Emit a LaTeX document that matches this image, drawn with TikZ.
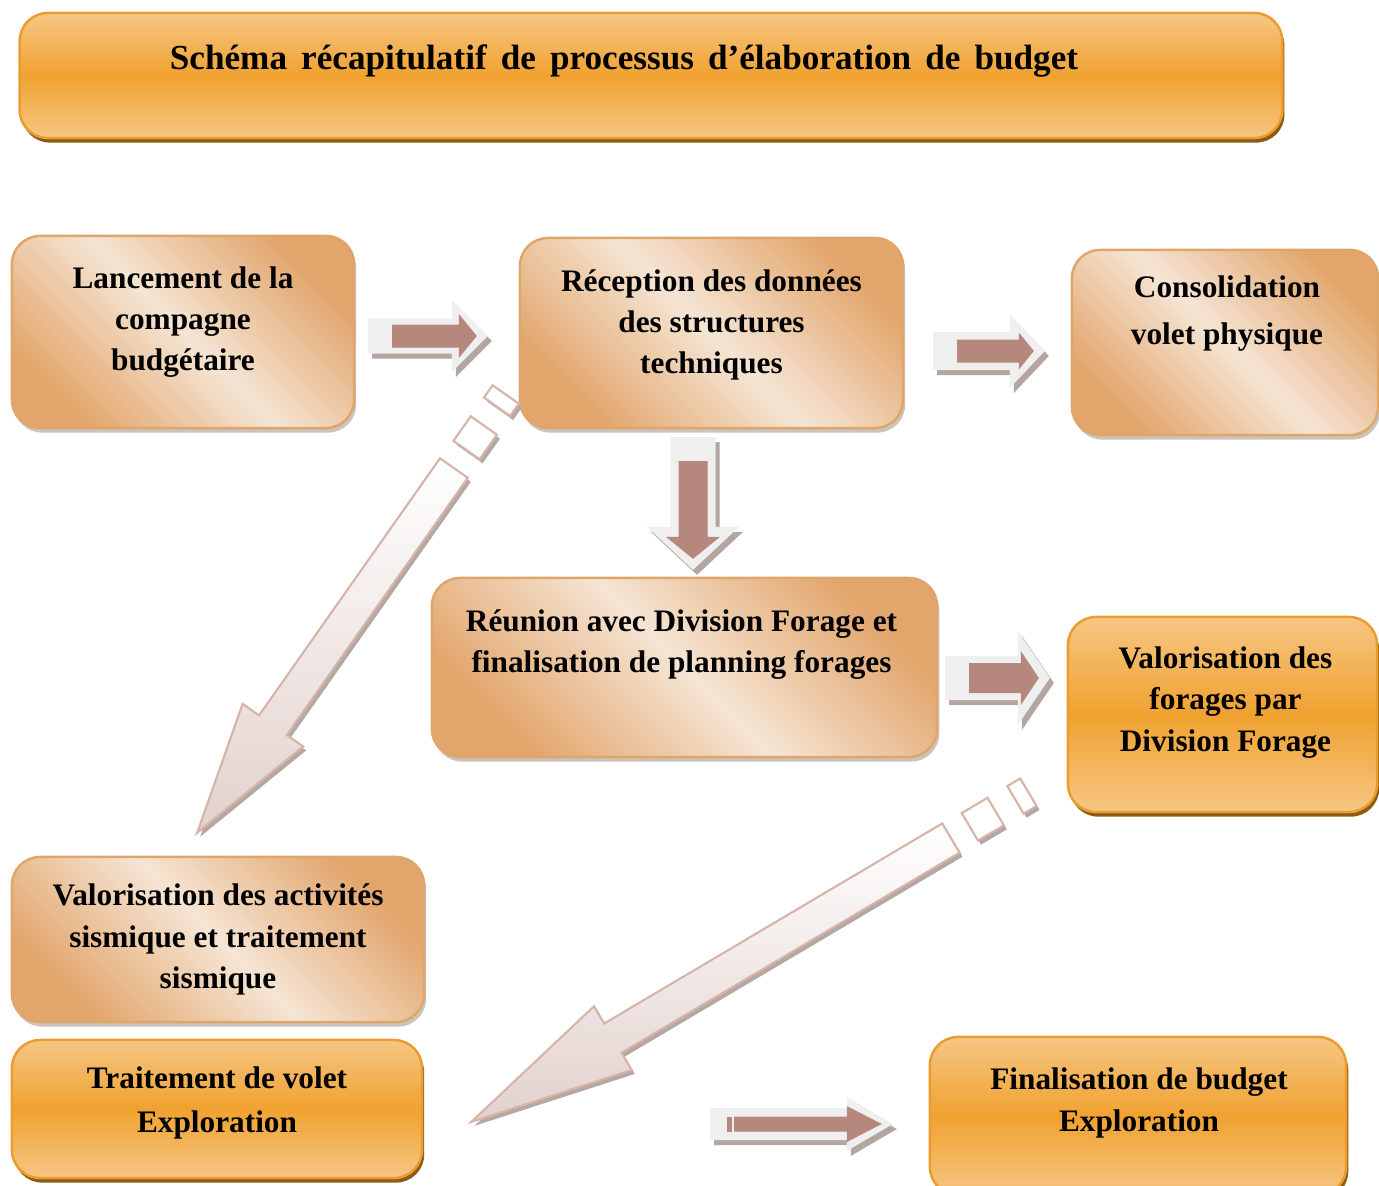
\documentclass[tikz,border=0pt]{standalone}
\usepackage{fontspec}
\setmainfont{Liberation Serif}
\usetikzlibrary{calc,shadows}

\definecolor{orMid}{HTML}{F0A230}
\definecolor{orLight}{HTML}{F6C684}
\definecolor{orEdge}{HTML}{EA9C2E}
\definecolor{orShadow}{HTML}{8C5C14}
\definecolor{peDark}{HTML}{E2A56B}
\definecolor{peLight}{HTML}{F5E5D4}
\definecolor{peEdge}{HTML}{DEA66A}
\definecolor{peShadow}{HTML}{CBC3BC}
\definecolor{arLight}{HTML}{F0EFEF}
\definecolor{arBrown}{HTML}{B5877D}
\definecolor{arShadow}{HTML}{B3A5A0}
\definecolor{bigEdge}{HTML}{D5B4A9}
\definecolor{bigEnd}{HTML}{E2D1CD}
\definecolor{bigShadow}{HTML}{B5A7A2}

% angle and length (in px) from #1 to #2
\newcommand{\arrowframe}[2]{%
  \path let \p1=($(#2)-(#1)$) in \pgfextra{%
    \pgfmathsetmacro\tmpang{atan2(\y1,\x1)}%
    \pgfmathsetmacro\tmplen{veclen(\x1,\y1)/0.28453}%
    \xdef\arrang{\tmpang}\xdef\arrlen{\tmplen}};}

% block arrow: start, tip, outer body, outer head, outer head length, inner body, inner head, inner head length
\newcommand{\fatarrow}[8]{%
  \arrowframe{#1}{#2}
  \fill[arShadow, shift={($(#1)+(4,5)$)}, rotate=\arrang]
    (0,-#3) -- ({\arrlen-#5},-#3) -- ({\arrlen-#5},-#4) -- (\arrlen,0)
    -- ({\arrlen-#5},#4) -- ({\arrlen-#5},#3) -- (0,#3) -- cycle;
  \fill[arLight, shift={(#1)}, rotate=\arrang]
    (0,-#3) -- ({\arrlen-#5},-#3) -- ({\arrlen-#5},-#4) -- (\arrlen,0)
    -- ({\arrlen-#5},#4) -- ({\arrlen-#5},#3) -- (0,#3) -- cycle;
  \fill[arBrown, shift={(#1)}, rotate=\arrang]
    (24,-#6) -- ({\arrlen-11-#8},-#6) -- ({\arrlen-11-#8},-#7) -- ({\arrlen-11},0)
    -- ({\arrlen-11-#8},#7) -- ({\arrlen-11-#8},#6) -- (24,#6) -- cycle;}

% big hollow arrow with two squares behind its tail: shaft start, tip
\newcommand{\bigarrow}[2]{%
  \arrowframe{#1}{#2}
  \pgfmathsetmacro\headbase{0.705*\arrlen}
  \fill[bigShadow, shift={($(#1)+(3,4)$)}, rotate=\arrang]
    (0,-17) -- (\headbase,-17) -- (\headbase,-37) -- (\arrlen,0)
    -- (\headbase,37) -- (\headbase,17) -- (0,17) -- cycle
    (-52,-16) rectangle (-22,16) (-90,-16) rectangle (-75,16);
  \draw[bigEdge, line width=0.6pt, top color=white, bottom color=bigEnd,
        shift={(#1)}, rotate=\arrang]
    (0,-17) -- (\headbase,-17) -- (\headbase,-37) -- (\arrlen,0)
    -- (\headbase,37) -- (\headbase,17) -- (0,17) -- cycle;
  \draw[bigEdge, line width=0.6pt, fill=white, shift={(#1)}, rotate=\arrang]
    (-52,-16) rectangle (-22,16) (-90,-16) rectangle (-75,16);}

\begin{document}
\begin{tikzpicture}[x=0.01cm, y=-0.01cm,
    orbox/.style={draw=orEdge, line width=0.7pt, rounded corners=8pt,
      top color=orLight, bottom color=orLight, middle color=orMid,
      drop shadow={shadow xshift=0.6pt, shadow yshift=-1.3pt, fill=orShadow, opacity=1},
      inner sep=0pt, outer sep=0pt},
    pebox/.style={draw=peEdge, line width=0.7pt, rounded corners=8pt,
      top color=peDark, bottom color=peDark, middle color=peLight, shading angle=-45,
      drop shadow={shadow xshift=0.6pt, shadow yshift=-1.3pt, fill=peShadow, opacity=1},
      inner sep=0pt, outer sep=0pt},
    txt/.style={font=\bfseries\fontsize{8.9}{11.7}\selectfont, align=center, inner sep=0pt},
    titletxt/.style={font=\bfseries\fontsize{10}{12}\selectfont, inner sep=0pt}]
\useasboundingbox (0,0) rectangle (1379,1185);

% boxes
\node[orbox, minimum width=12.62cm, minimum height=1.25cm] (title) at (651,75.5) {};
\node[pebox, minimum width=3.42cm, minimum height=1.92cm] (lanc) at (183,332) {};
\node[pebox, minimum width=3.83cm, minimum height=1.90cm] (recep) at (711.5,333) {};
\node[pebox, minimum width=3.06cm, minimum height=1.85cm] (conso) at (1225,342.5) {};
\node[pebox, minimum width=5.05cm, minimum height=1.79cm] (reun) at (684.5,667.5) {};
\node[orbox, minimum width=3.09cm, minimum height=1.95cm] (valf) at (1222.5,714.5) {};
\node[pebox, minimum width=4.12cm, minimum height=1.65cm] (vala) at (218,939.5) {};
\node[orbox, minimum width=4.10cm, minimum height=1.38cm] (trait) at (217,1109) {};
\node[orbox, minimum width=4.16cm, minimum height=1.58cm] (fin) at (1138,1116) {};

% texts
\node[titletxt] (titlet) at ($(title)+(-27,-14)$)
  {\spaceskip=4pt\relax Schéma récapitulatif de processus d’élaboration de budget};
\node[txt] (lanct) at ($(lanc)+(0,-10)$) {Lancement de la\\compagne\\budgétaire};
\node[txt] (recept) at ($(recep)+(0,-8)$) {Réception des données\\des structures\\techniques};
\node[txt] (consot) at ($(conso)+(2,-29)$) {Consolidation\\[1.7pt]volet physique};
\node[txt] (reunt) at ($(reun)+(-3,-23)$) {Réunion avec Division Forage et\\finalisation de planning forages};
\node[txt] (valft) at ($(valf)+(3,-12)$) {Valorisation des\\forages par\\Division Forage};
\node[txt] (valat) at ($(vala)+(0,0)$) {Valorisation des activités\\sismique et traitement\\sismique};
\node[txt] (traitt) at ($(trait)+(0,-6)$) {Traitement de volet\\[0.9pt]Exploration};
\node[txt] (fint) at ($(fin)+(1,-13)$) {Finalisation de budget\\Exploration};

% arrow ends
\coordinate (a1s) at ($(lanc.east)+(14,4)$);
\coordinate (a1e) at ($(recep.west)+(-32,3)$);
\coordinate (a2s) at ($(recep.east)+(30,18)$);
\coordinate (a2e) at ($(conso.west)+(-27,8.5)$);
\coordinate (a3s) at ($(recep.south)+(-18.5,9)$);
\coordinate (a3e) at ($(reun.north)+(8.5,-8)$);
\coordinate (a4s) at ($(reun.east)+(8,10.5)$);
\coordinate (a4e) at ($(valf.west)+(-18,-36.5)$);
\coordinate (a5s) at ($(trait.east)+(288,15)$);
\coordinate (a5e) at ($(fin.west)+(-37,8)$);
\coordinate (b1s) at ($(recep.south west)+(-66,40)$);
\coordinate (b1e) at ($(vala.north)+(-21,-24)$);
\coordinate (b2s) at ($(valf.south west)+(-117,26)$);
\coordinate (b2e) at ($(trait.east)+(49,13)$);

% arrows
\fatarrow{a1s}{a1e}{17.5}{36}{36}{11.5}{22}{18}
\fatarrow{a2s}{a2e}{19}{37}{35}{11.5}{18.5}{15}
\fatarrow{a3s}{a3e}{22.5}{46}{43}{14.5}{27}{22}
\fatarrow{a4s}{a4e}{22}{47}{32}{15}{27}{18}
\fatarrow{a5s}{a5e}{16}{27}{46}{7.5}{18}{35}
\fill[arBrown, shift={(a5s)}] (17,-7.5) rectangle (22,7.5);
\bigarrow{b1s}{b1e}
\bigarrow{b2s}{b2e}
\end{tikzpicture}
\end{document}
